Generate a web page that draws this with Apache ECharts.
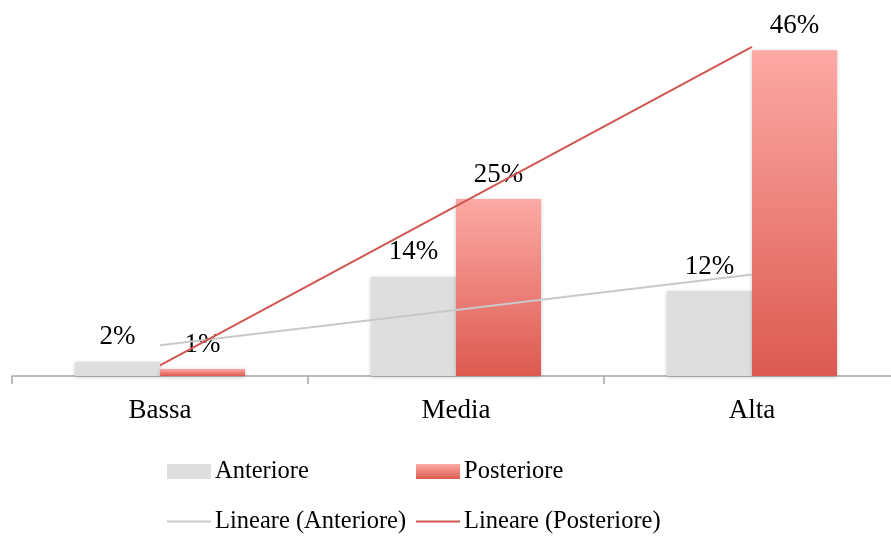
<!DOCTYPE html>
<html>
<head>
<meta charset="utf-8">
<style>
  html, body { margin: 0; padding: 0; background: #fff; }
  #chart { width: 891px; height: 539px; }
</style>
<script src="https://cdn.jsdelivr.net/npm/echarts@6/dist/echarts.min.js"></script>
</head>
<body>
<div id="chart"></div>
<script>
// Categories and series values (percent)
const categories = ['Bassa', 'Media', 'Alta'];
const anteriore = [2, 14, 12];
const posteriore = [1, 25, 46];
const seriesNames = ['Anteriore', 'Posteriore', 'Lineare (Anteriore)', 'Lineare (Posteriore)'];

// Least-squares linear trend over category positions 1..n
function linearTrend(values) {
  const n = values.length;
  const xs = values.map((_, i) => i + 1);
  const mx = xs.reduce((a, b) => a + b, 0) / n;
  const my = values.reduce((a, b) => a + b, 0) / n;
  let num = 0, den = 0;
  for (let i = 0; i < n; i++) {
    num += (xs[i] - mx) * (values[i] - my);
    den += (xs[i] - mx) * (xs[i] - mx);
  }
  const slope = num / den;
  const intercept = my - slope * mx;
  return xs.map(x => +(intercept + slope * x).toFixed(4));
}

const FONT = '"Liberation Serif", "DejaVu Serif", serif';
const GRAY = '#DEDEDE';
const RED_LINE = '#D0574F';
const TREND_GRAY = '#C9C9C9';

const redGradient = new echarts.graphic.LinearGradient(0, 0, 0, 1, [
  { offset: 0, color: '#FDA9A5' },
  { offset: 1, color: '#DC5A50' }
]);

const barLabel = {
  show: true,
  position: 'top',
  distance: 11,
  formatter: '{c}%',
  color: '#000',
  fontFamily: FONT,
  fontSize: 27
};

const legendText = { fontFamily: FONT, fontSize: 24.5, color: '#000', padding: [0, 0, 0, -1] };

function legendAt(left, top, name, icon, w, h, color) {
  return {
    left: left, top: top, orient: 'horizontal', padding: 0,
    itemWidth: w, itemHeight: h, itemGap: 0,
    selectedMode: false,
    textStyle: legendText,
    data: [{ name: name, icon: icon, itemStyle: { color: color, borderWidth: 0, shadowBlur: 0 }, lineStyle: { width: 0 } }]
  };
}

const chart = echarts.init(document.getElementById('chart'), null, { renderer: 'canvas' });

chart.setOption({
  animation: false,
  backgroundColor: '#fff',
  grid: { left: 12, top: 22, width: 888, height: 354, containLabel: false, outerBoundsMode: 'none' },
  legend: [
    legendAt(167, 459, seriesNames[0], 'rect', 44, 15, GRAY),
    legendAt(416, 459, seriesNames[1], 'rect', 44, 15, redGradient),
    legendAt(167, 509, seriesNames[2], 'rect', 44, 2, TREND_GRAY),
    legendAt(416, 509, seriesNames[3], 'rect', 44, 2, RED_LINE)
  ],
  xAxis: {
    type: 'category',
    data: categories,
    boundaryGap: true,
    axisLine: { show: true, lineStyle: { color: '#A6A6A6', width: 1.5 } },
    axisTick: { show: true, length: 8, lineStyle: { color: '#A6A6A6', width: 1.5 } },
    axisLabel: { color: '#000', fontFamily: FONT, fontSize: 27, margin: 21 }
  },
  yAxis: {
    type: 'value',
    min: 0,
    max: 50,
    show: false,
    splitLine: { show: false }
  },
  series: [
    {
      name: seriesNames[0],
      type: 'bar',
      data: anteriore,
      barWidth: 85,
      barGap: '0%',
      itemStyle: { color: GRAY, shadowBlur: 4, shadowColor: 'rgba(0,0,0,0.22)', shadowOffsetY: 1 },
      label: barLabel,
      z: 2
    },
    {
      name: seriesNames[1],
      type: 'bar',
      data: posteriore,
      barWidth: 85,
      barGap: '0%',
      itemStyle: { color: redGradient, shadowBlur: 4, shadowColor: 'rgba(0,0,0,0.22)', shadowOffsetY: 1 },
      label: barLabel,
      z: 2
    },
    {
      name: seriesNames[2],
      type: 'line',
      data: linearTrend(anteriore),
      symbol: 'none',
      lineStyle: { color: TREND_GRAY, width: 2 },
      itemStyle: { color: TREND_GRAY },
      z: 5
    },
    {
      name: seriesNames[3],
      type: 'line',
      data: linearTrend(posteriore),
      symbol: 'none',
      lineStyle: { color: RED_LINE, width: 2 },
      itemStyle: { color: RED_LINE },
      z: 5
    }
  ]
});
</script>
</body>
</html>
